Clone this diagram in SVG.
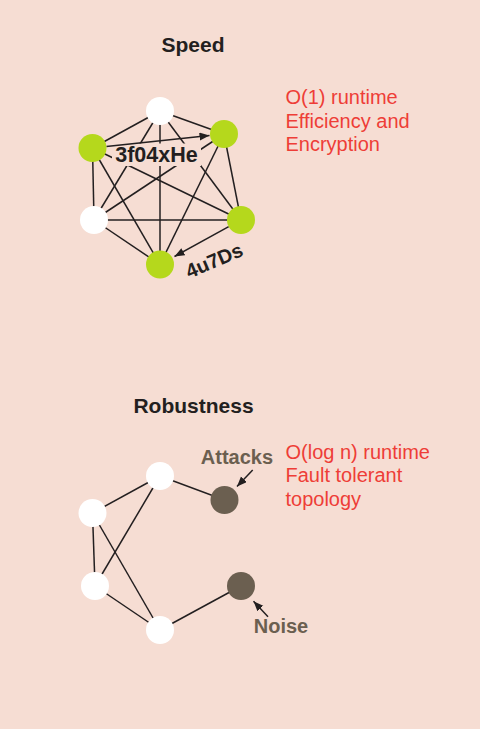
<svg xmlns="http://www.w3.org/2000/svg" width="480" height="729" viewBox="0 0 480 729">
<style>
.edge{stroke:#231F20;stroke-width:1.5;fill:none}
.arrow{stroke:#231F20;stroke-width:1.5;fill:none;marker-end:url(#ah)}
.white{fill:#FFFFFF}
.green{fill:#B5D81C}
.brown{fill:#6B5F50}
.title{font-family:"Liberation Sans",Arial,sans-serif;font-weight:bold;font-size:21px;fill:#231F20;text-anchor:middle}
.lbl{font-family:"Liberation Sans",Arial,sans-serif;font-weight:bold;font-size:21.5px;fill:#231F20;text-anchor:middle}
.glbl{font-family:"Liberation Sans",Arial,sans-serif;font-weight:bold;font-size:20px;fill:#6B5F50;text-anchor:middle}
.red{font-family:"Liberation Sans",Arial,sans-serif;font-size:20px;fill:#EE3D37}
</style>
<defs>
<marker id="ah" markerUnits="userSpaceOnUse" markerWidth="11" markerHeight="9" refX="10" refY="4" orient="auto">
<path d="M0,0 L10,4 L0,8 z" fill="#231F20"/>
</marker>
</defs>
<rect width="480" height="729" fill="#F6DDD3"/>
<text class="title" x="193" y="52">Speed</text>
<text class="title" x="193.5" y="412.5">Robustness</text>
<g id="note-speed" class="red">
<text x="285.5" y="103.5">O(1) runtime</text>
<text x="285.5" y="127.5">Efficiency and</text>
<text x="285.5" y="151">Encryption</text>
</g>
<g id="note-robust" class="red">
<text x="285.5" y="458.5">O(log n) runtime</text>
<text x="285.5" y="482">Fault tolerant</text>
<text x="285.5" y="505.5">topology</text>
</g>
<g id="connectors">
<line class="edge" x1="160" y1="111" x2="92.5" y2="148"/>
<line class="edge" x1="160" y1="111" x2="224" y2="134"/>
<line class="edge" x1="160" y1="111" x2="94" y2="220"/>
<line class="edge" x1="160" y1="111" x2="241" y2="220"/>
<line class="edge" x1="160" y1="111" x2="160" y2="264.5"/>
<line class="edge" x1="92.5" y1="148" x2="94" y2="220"/>
<line class="edge" x1="92.5" y1="148" x2="241" y2="220"/>
<line class="edge" x1="92.5" y1="148" x2="160" y2="264.5"/>
<line class="edge" x1="224" y1="134" x2="94" y2="220"/>
<line class="edge" x1="224" y1="134" x2="241" y2="220"/>
<line class="edge" x1="224" y1="134" x2="160" y2="264.5"/>
<line class="edge" x1="94" y1="220" x2="241" y2="220"/>
<line class="edge" x1="94" y1="220" x2="160" y2="264.5"/>
<rect x="112" y="143.5" width="89" height="22.5" fill="#F6DDD3"/>
<line class="arrow" x1="106.4" y1="146.5" x2="209.5" y2="135.5"/>
<line class="arrow" x1="228.7" y1="226.7" x2="174.5" y2="256.5"/>
<line class="edge" x1="160" y1="476" x2="92.5" y2="513"/>
<line class="edge" x1="160" y1="476" x2="95" y2="586"/>
<line class="edge" x1="160" y1="476" x2="224.5" y2="500"/>
<line class="edge" x1="92.5" y1="513" x2="95" y2="586"/>
<line class="edge" x1="92.5" y1="513" x2="160" y2="630"/>
<line class="edge" x1="95" y1="586" x2="160" y2="630"/>
<line class="edge" x1="160" y1="630" x2="241" y2="586"/>
<line class="arrow" x1="252.7" y1="470" x2="237" y2="486.5"/>
<line class="arrow" x1="268" y1="616.7" x2="253.5" y2="601.2"/>
</g>
<text class="lbl" x="156.5" y="161.5">3f04xHe</text>
<text class="lbl" transform="translate(214,260) rotate(-23)" x="0" y="7.5" style="font-size:20px">4u7Ds</text>
<text class="glbl" x="237" y="464">Attacks</text>
<text class="glbl" x="281" y="632.5">Noise</text>
<g id="n-top"><circle class="white" cx="160" cy="111" r="14"/></g>
<g id="n-upleft"><circle class="green" cx="92.5" cy="148" r="14"/></g>
<g id="n-upright"><circle class="green" cx="224" cy="134" r="14"/></g>
<g id="n-lowleft"><circle class="white" cx="94" cy="220" r="14"/></g>
<g id="n-lowright"><circle class="green" cx="241" cy="220" r="14"/></g>
<g id="n-bottom"><circle class="green" cx="160" cy="264.5" r="14"/></g>
<g id="r-a"><circle class="white" cx="160" cy="476" r="14"/></g>
<g id="r-b"><circle class="white" cx="92.5" cy="513" r="14"/></g>
<g id="r-c"><circle class="white" cx="95" cy="586" r="14"/></g>
<g id="r-d"><circle class="white" cx="160" cy="630" r="14"/></g>
<g id="r-attacks"><circle class="brown" cx="224.5" cy="500" r="14"/></g>
<g id="r-noise"><circle class="brown" cx="241" cy="586" r="14"/></g>
</svg>
